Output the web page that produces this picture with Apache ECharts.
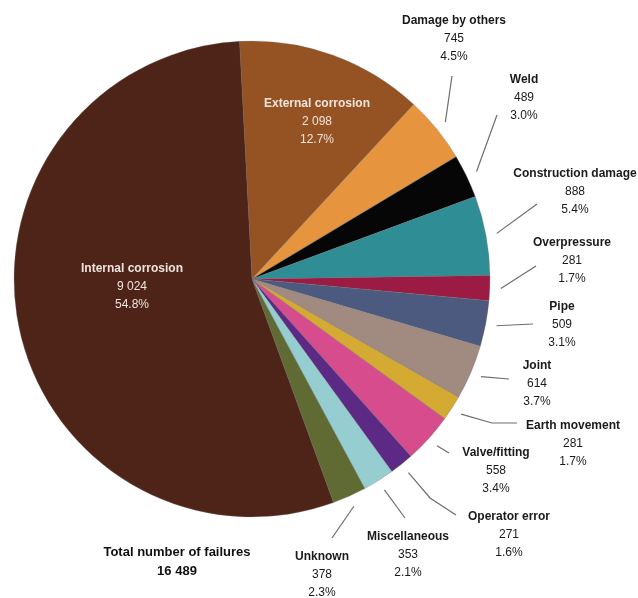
<!DOCTYPE html>
<html>
<head>
<meta charset="utf-8">
<script src="https://cdn.jsdelivr.net/npm/echarts@6/dist/echarts.min.js"></script>
<style>
  html, body { margin: 0; padding: 0; background: #ffffff; }
  #chart { width: 638px; height: 598px; }
</style>
</head>
<body>
<div id="chart"></div>
<script>
// Pipeline failures by cause, clockwise from 12 o'clock
const categories = [
  'External corrosion', 'Damage by others', 'Weld', 'Construction damage',
  'Overpressure', 'Pipe', 'Joint', 'Earth movement', 'Valve/fitting',
  'Operator error', 'Miscellaneous', 'Unknown', 'Internal corrosion'
];
const failures = [2098, 745, 489, 888, 281, 509, 614, 281, 558, 271, 353, 378, 9024];
const shares = ['12.7%', '4.5%', '3.0%', '5.4%', '1.7%', '3.1%', '3.7%', '1.7%', '3.4%', '1.6%', '2.1%', '2.3%', '54.8%'];
const sliceColors = [
  '#955323', '#E6953E', '#060606', '#2F8E95', '#9B1B45', '#4B5A7E', '#A18A80',
  '#D4AA33', '#D64C8C', '#5C2A84', '#95CDD0', '#5F6B33', '#4E2318'
];
const insideLabels = ['External corrosion', 'Internal corrosion'];
const totalTitle = 'Total number of failures';

// Pie geometry
const CENTER = [252, 279];
const RADIUS = 238;
const LEADER_GAP = 11;

// Label block anchors (top-centre) and leader elbows/ends
const labelPlacement = {
  'Internal corrosion':  { x: 132, y: 260 },
  'External corrosion':  { x: 317, y: 95 },
  'Damage by others':    { x: 454, y: 12,  leader: [[452, 76]] },
  'Weld':                { x: 524, y: 71,  leader: [[497, 115]] },
  'Construction damage': { x: 575, y: 165, leader: [[537, 204]] },
  'Overpressure':        { x: 572, y: 234, leader: [[536, 266]] },
  'Pipe':                { x: 562, y: 298, leader: [[533, 324]] },
  'Joint':               { x: 537, y: 357, leader: [[509, 379]] },
  'Earth movement':      { x: 573, y: 417, leader: [[492, 423], [517, 423]] },
  'Valve/fitting':       { x: 496, y: 444, leader: [[449, 453]] },
  'Operator error':      { x: 509, y: 508, leader: [[430, 498], [456, 515]] },
  'Miscellaneous':       { x: 408, y: 528, leader: [[405, 518]] },
  'Unknown':             { x: 322, y: 548, leader: [[332, 538]] }
};

const FONT = '"Liberation Sans", Arial, sans-serif';

function withSpaces(n) {
  return String(n).replace(/\B(?=(\d{3})+(?!\d))/g, ' ');
}

const pieData = categories.map((name, i) => {
  const inside = insideLabels.includes(name);
  return {
    name: name,
    value: failures[i],
    share: shares[i],
    itemStyle: { color: sliceColors[i] },
    label: inside
      ? { position: 'inside', color: '#EDE4DC' }
      : { position: 'outside', color: '#1a1a1a' },
    labelLine: { show: !inside }
  };
});

const totalFailures = failures.reduce((a, b) => a + b, 0);

const chart = echarts.init(document.getElementById('chart'), null, { renderer: 'canvas' });

chart.setOption({
  backgroundColor: '#ffffff',
  animation: false,
  graphic: [{
    type: 'text',
    x: 177,
    y: 543,
    style: {
      text: totalTitle + '\n' + withSpaces(totalFailures),
      fill: '#111111',
      font: 'bold 13px ' + FONT,
      lineHeight: 19,
      align: 'center',
      verticalAlign: 'top'
    }
  }],
  series: [{
    type: 'pie',
    center: CENTER,
    radius: RADIUS,
    startAngle: 93,
    clockwise: true,
    avoidLabelOverlap: false,
    data: pieData,
    itemStyle: {
      borderColor: 'rgba(110,110,110,0.55)',
      borderWidth: 0.6
    },
    label: {
      show: true,
      fontFamily: FONT,
      formatter: function (p) {
        return '{n|' + p.name + '}\n{v|' + withSpaces(p.value) + '}\n{v|' + p.data.share + '}';
      },
      rich: {
        n: { fontFamily: FONT, fontWeight: 'bold', fontSize: 12, lineHeight: 18 },
        v: { fontFamily: FONT, fontSize: 12, lineHeight: 18 }
      }
    },
    labelLine: {
      show: true,
      length: 15,
      length2: 0,
      lineStyle: { color: '#6e6e6e', width: 1.2 }
    },
    labelLayout: function (params) {
      const name = categories[params.dataIndex];
      const place = labelPlacement[name];
      const out = { x: place.x, y: place.y, align: 'center', verticalAlign: 'top' };
      const pts = params.labelLinePoints;
      if (place.leader && pts && pts.length) {
        const dx = pts[0][0] - CENTER[0];
        const dy = pts[0][1] - CENTER[1];
        const len = Math.sqrt(dx * dx + dy * dy) || 1;
        const k = (RADIUS + LEADER_GAP) / len;
        const start = [CENTER[0] + dx * k, CENTER[1] + dy * k];
        out.labelLinePoints = [start].concat(place.leader);
      }
      return out;
    }
  }]
});
</script>
</body>
</html>
